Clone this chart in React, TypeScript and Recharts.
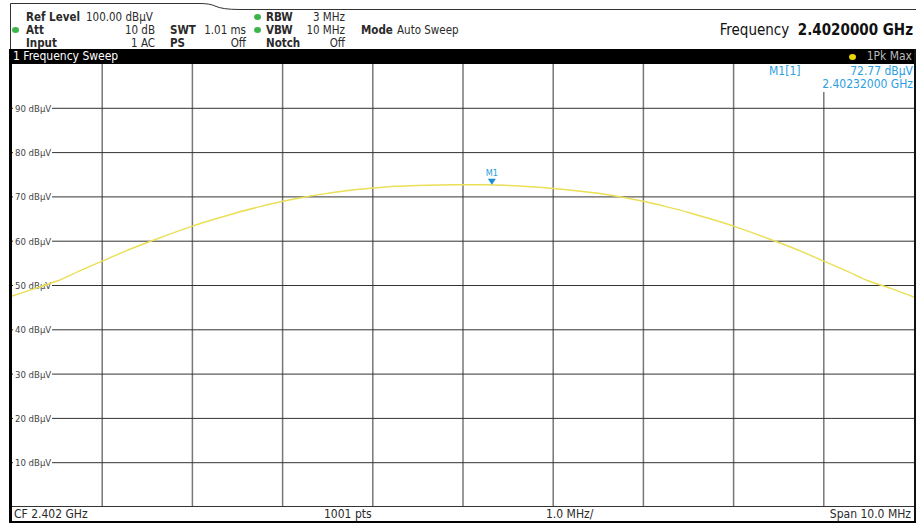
import React from "react";
import { LineChart, Line, XAxis, YAxis, ReferenceLine, ReferenceDot } from "recharts";

// sweep: 2.397 .. 2.407 GHz, every 0.25 MHz
const freqMHz = [
    2397, 2397.25, 2397.5, 2397.75, 2398, 2398.25, 2398.5, 2398.75, 2399, 2399.25,
    2399.5, 2399.75, 2400, 2400.25, 2400.5, 2400.75, 2401, 2401.25, 2401.5, 2401.75,
    2402, 2402.25, 2402.5, 2402.75, 2403, 2403.25, 2403.5, 2403.75, 2404, 2404.25,
    2404.5, 2404.75, 2405, 2405.25, 2405.5, 2405.75, 2406, 2406.25, 2406.5, 2406.75,
    2407,
];
const levelDbuv = [
    47.6, 49.3, 51.0, 53.3, 55.5, 57.7, 59.7, 61.6, 63.4, 65.0,
    66.5, 67.8, 69.0, 70.0, 70.8, 71.5, 72.0, 72.4, 72.6, 72.7,
    72.75, 72.77, 72.6, 72.3, 71.9, 71.4, 70.8, 70.0, 69.0, 67.8,
    66.5, 65.0, 63.4, 61.6, 59.7, 57.7, 55.5, 53.3, 51.0, 49.3,
    47.4,
];
const gridFreqs = [2398, 2399, 2400, 2401, 2402, 2403, 2404, 2405, 2406];
const levelTicks = [90, 80, 70, 60, 50, 40, 30, 20, 10];
const markerFreq = 2402.32;
const markerLevel = 72.77;

const data = freqMHz.map((f, i) => ({ f, level: levelDbuv[i] }));

const FONT = "'DejaVu Sans Condensed', 'DejaVu Sans', sans-serif";
const BLUE = "#2a9ee0";
const TRACE = "#eadf55";

function LevelTag(props: any) {
    const { viewBox, text } = props;
    if (!viewBox) return null;
    const y = viewBox.y;
    return (
        <g>
            <rect x={1} y={y - 6} width={39} height={12} fill="#fff" />
            <text x={3} y={y + 3.5} fontSize={9.5} fill="#444" fontFamily={FONT}>
                {text}
            </text>
        </g>
    );
}

function MarkerShape(props: any) {
    const { cx, cy } = props;
    return (
        <g>
            <path d={`M${cx - 4},${cy - 6} L${cx + 4},${cy - 6} L${cx},${cy} Z`} fill="#1a8fd6" />
            <text x={cx} y={cy - 9} textAnchor="middle" fontSize={9} fill={BLUE} fontFamily={FONT}>
                M1
            </text>
        </g>
    );
}

const base: React.CSSProperties = {
    position: "absolute",
    fontFamily: FONT,
    fontSize: 11.5,
    color: "#2a2a2a",
    whiteSpace: "nowrap",
    lineHeight: "12px",
};

const txt = (left: number, top: number, extra: React.CSSProperties = {}): React.CSSProperties => ({
    ...base,
    left,
    top,
    ...extra,
});

const right = (endX: number, top: number, extra: React.CSSProperties = {}): React.CSSProperties => ({
    ...base,
    right: 916 - endX,
    top,
    ...extra,
});

const dot = (left: number, top: number, color: string): React.CSSProperties => ({
    position: "absolute",
    left,
    top,
    width: 7,
    height: 6,
    borderRadius: "50%",
    background: color,
});

const GREEN = "#3bb54a";
const R1 = 11;
const R2 = 24;
const R3 = 36.5;

export default function App() {
    return (
        <div style={{ position: "relative", width: 916, height: 523, background: "#fff", overflow: "hidden" }}>
            <style>{`body{margin:0}`}</style>

            {/* frame */}
            <svg width={916} height={523} style={{ position: "absolute", left: 0, top: 0 }}>
                <path d="M10.5,49 L10.5,3.5 L200,3.5 Q210,3.5 215,6 Q222,9.5 240,9.5 L916,9.5" fill="none" stroke="#333" strokeWidth={1} />
            </svg>

            {/* header */}
            <div style={txt(26, R1, { fontWeight: "bold" })}>Ref Level</div>
            <div style={txt(86, R1)}>100.00 dBµV</div>
            <div style={dot(12, R2 + 3, GREEN)} />
            <div style={txt(26, R2, { fontWeight: "bold" })}>Att</div>
            <div style={right(155, R2)}>10 dB</div>
            <div style={txt(26, R3, { fontWeight: "bold" })}>Input</div>
            <div style={right(155, R3)}>1 AC</div>

            <div style={txt(170, R2, { fontWeight: "bold" })}>SWT</div>
            <div style={right(246, R2)}>1.01 ms</div>
            <div style={txt(170, R3, { fontWeight: "bold" })}>PS</div>
            <div style={right(246, R3)}>Off</div>

            <div style={dot(254, R1 + 3, GREEN)} />
            <div style={txt(266, R1, { fontWeight: "bold" })}>RBW</div>
            <div style={right(345, R1)}>3 MHz</div>
            <div style={dot(254, R2 + 3, GREEN)} />
            <div style={txt(266, R2, { fontWeight: "bold" })}>VBW</div>
            <div style={right(345, R2)}>10 MHz</div>
            <div style={txt(266, R3, { fontWeight: "bold" })}>Notch</div>
            <div style={right(345, R3)}>Off</div>

            <div style={txt(361, R2, { fontWeight: "bold" })}>Mode</div>
            <div style={txt(397, R2)}>Auto Sweep</div>

            <div style={right(913, 21, { fontSize: 15, lineHeight: "18px", color: "#111" })}>
                Frequency&nbsp;&nbsp;<b>2.4020000 GHz</b>
            </div>

            {/* title bar */}
            <div style={{ position: "absolute", left: 9, top: 49, width: 907, height: 15, background: "#000" }} />
            <div style={txt(13, 50, { fontSize: 12, color: "#fff", lineHeight: "13px" })}>1 Frequency Sweep</div>
            <div style={dot(849, 54, "#e8d800")} />
            <div style={right(912, 50, { fontSize: 12, color: "#bbb", lineHeight: "13px" })}>1Pk Max</div>

            {/* plot borders */}
            <div style={{ position: "absolute", left: 9, top: 49, width: 3, height: 474, background: "#000" }} />
            <div style={{ position: "absolute", left: 914, top: 49, width: 2, height: 474, background: "#111" }} />

            <div style={{ position: "absolute", left: 12, top: 64 }}>
                <LineChart width={902} height={443} data={data} margin={{ top: 0, right: 0, left: 0, bottom: 0 }}>
                    <XAxis dataKey="f" type="number" domain={[2397, 2407]} hide />
                    <YAxis type="number" domain={[0, 100]} hide />
                    {gridFreqs.map((f) => (
                        <ReferenceLine key={"v" + f} x={f} stroke="#777" strokeWidth={1.5} />
                    ))}
                    {levelTicks.map((v) => (
                        <ReferenceLine
                            key={"h" + v}
                            y={v}
                            stroke="#333"
                            strokeWidth={1}
                            label={<LevelTag text={`${v} dBµV`} />}
                        />
                    ))}
                    <Line
                        type="monotone"
                        dataKey="level"
                        stroke={TRACE}
                        strokeWidth={1.5}
                        dot={false}
                        isAnimationActive={false}
                    />
                    <ReferenceDot x={markerFreq} y={markerLevel} shape={<MarkerShape />} />
                </LineChart>
            </div>

            {/* marker readout */}
            <div style={{ position: "absolute", left: 764, top: 64, width: 150, height: 28, background: "#fff" }} />
            <div style={txt(769, 65, { fontSize: 12, lineHeight: "13px", color: BLUE })}>M1[1]</div>
            <div style={right(913, 65, { fontSize: 12, lineHeight: "13px", color: BLUE })}>{markerLevel.toFixed(2)} dBµV</div>
            <div style={right(913, 78, { fontSize: 12, lineHeight: "13px", color: BLUE })}>2.40232000 GHz</div>

            {/* footer */}
            <div style={{ position: "absolute", left: 12, top: 506, width: 902, height: 15, background: "#fff", borderTop: "1px solid #333" }} />
            <div style={txt(14, 507, { fontSize: 12, lineHeight: "14px" })}>CF 2.402 GHz</div>
            <div style={txt(324, 507, { fontSize: 12, lineHeight: "14px" })}>1001 pts</div>
            <div style={txt(546, 507, { fontSize: 12, lineHeight: "14px" })}>1.0 MHz/</div>
            <div style={right(911, 507, { fontSize: 12, lineHeight: "14px" })}>Span 10.0 MHz</div>
            <div style={{ position: "absolute", left: 9, top: 521, width: 907, height: 2, background: "#000" }} />
        </div>
    );
}
